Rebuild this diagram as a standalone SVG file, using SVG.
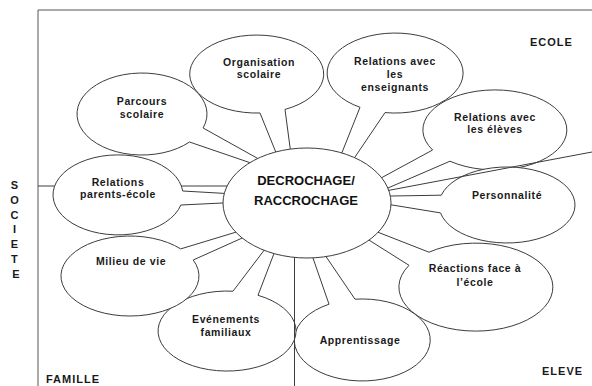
<svg xmlns="http://www.w3.org/2000/svg" width="592" height="386" viewBox="0 0 592 386">
  <style>
    .frame { fill: none; stroke: #555; stroke-width: 1; }
    .axis { fill: none; stroke: #3c3c3c; stroke-width: 1; }
    .callout { fill: #fff; stroke: #3c3c3c; stroke-width: 1; stroke-linejoin: round; }
    .lbl { font-family: "Liberation Sans", Arial, sans-serif; font-weight: bold; font-size: 10.5px; letter-spacing: 0.6px; fill: #1a1a1a; text-anchor: middle; }
    .zone { font-family: "Liberation Sans", Arial, sans-serif; font-weight: bold; font-size: 11px; letter-spacing: 1px; fill: #1a1a1a; }
    .core { font-family: "Liberation Sans", Arial, sans-serif; font-weight: bold; font-size: 13px; fill: #111; text-anchor: middle; }
  </style>

  <!-- outer frame and the left half of the horizontal axis -->
  <g id="frame">
    <line class="frame" x1="38" y1="10" x2="592" y2="10"/>
    <line class="frame" x1="38" y1="10" x2="38" y2="386"/>
    <line class="axis" x1="38" y1="186" x2="240" y2="186"/>
  </g>

  <!-- zone labels -->
  <g id="zones">
    <text class="zone" x="530" y="46">ECOLE</text>
    <text class="zone" x="542" y="375">ELEVE</text>
    <text class="zone" x="46" y="383">FAMILLE</text>
    <text class="zone" text-anchor="middle" style="letter-spacing:0">
      <tspan x="16" y="189">S</tspan>
      <tspan x="16" y="204">O</tspan>
      <tspan x="16" y="219">C</tspan>
      <tspan x="16" y="233">I</tspan>
      <tspan x="16" y="248">E</tspan>
      <tspan x="16" y="263">T</tspan>
      <tspan x="16" y="278">E</tspan>
    </text>
  </g>

  <!-- oval callouts, each tail pointing into the central oval -->
  <g id="parcours">
    <path class="callout" d="M203.1,128 L268,164.2 L265.5,168 L189.5,142 A65,41 0 1 1 203.1,128 Z"/>
    <text class="lbl" x="142" y="105">Parcours</text>
    <text class="lbl" x="142" y="118">scolaire</text>
  </g>
  <g id="organisation">
    <path class="callout" d="M260,113 L279,160 L291.7,160 L285,109.4 A67,39 0 1 0 260,113 Z"/>
    <text class="lbl" x="259" y="66">Organisation</text>
    <text class="lbl" x="259" y="78">scolaire</text>
  </g>
  <g id="enseignants">
    <path class="callout" d="M360,107.3 L339,160 L349.6,165 L385,112.6 A68,40 0 1 0 360,107.3 Z"/>
    <text class="lbl" x="395" y="65">Relations avec</text>
    <text class="lbl" x="395" y="78">les</text>
    <text class="lbl" x="395" y="91">enseignants</text>
  </g>
  <g id="eleves">
    <path class="callout" d="M432.6,150 L375,181.3 L378,192.3 L450,161.2 A72,40 0 1 0 432.6,150 Z"/>
    <text class="lbl" x="495" y="121">Relations avec</text>
    <text class="lbl" x="495" y="133">les élèves</text>
  </g>
  <g id="personnalite">
    <path class="callout" d="M441.3,195.2 L380,196.2 L380,203 L440.5,212.9 A68,38 0 1 0 441.3,195.2 Z"/>
    <text class="lbl" x="507" y="199">Personnalité</text>
  </g>
  <g id="reactions">
    <path class="callout" d="M429,252.2 L372,229.9 L362.8,236.2 L409,265.3 A77,44 0 1 0 429,252.2 Z"/>
    <text class="lbl" x="475" y="272">Réactions face à</text>
    <text class="lbl" x="475" y="286">l’école</text>
  </g>
  <g id="apprentissage">
    <path class="callout" d="M329,304.2 L310.2,250 L320.2,248 L355,299.2 A68,41 0 1 1 329,304.2 Z"/>
    <text class="lbl" x="360" y="344">Apprentissage</text>
  </g>
  <g id="evenements">
    <path class="callout" d="M233,291.2 L268.1,245 L276.1,248 L258,295.3 A69,40 0 1 1 233,291.2 Z"/>
    <text class="lbl" x="226" y="323">Evénements</text>
    <text class="lbl" x="226" y="336">familiaux</text>
  </g>
  <g id="milieu">
    <path class="callout" d="M180.7,248.9 L245,229.4 L250,234.5 L193.2,260 A69,40 0 1 1 180.7,248.9 Z"/>
    <text class="lbl" x="131" y="265">Milieu de vie</text>
  </g>
  <g id="parents">
    <path class="callout" d="M182.7,191 L233,193.9 L233,202.5 L180.9,205 A65,40 0 1 1 182.7,191 Z"/>
    <text class="lbl" x="118" y="186">Relations</text>
    <text class="lbl" x="118" y="198">parents-école</text>
  </g>

  <!-- right and lower halves of the axes -->
  <g id="connectors">
    <line class="axis" x1="592" y1="152" x2="380" y2="192"/>
    <line class="axis" x1="294.5" y1="250" x2="294.5" y2="386"/>
  </g>

  <!-- central oval -->
  <g id="decrochage">
    <ellipse class="callout" cx="307" cy="203" rx="84" ry="55"/>
    <text class="core" x="306" y="185">DECROCHAGE/</text>
    <text class="core" x="306" y="205">RACCROCHAGE</text>
  </g>
</svg>
